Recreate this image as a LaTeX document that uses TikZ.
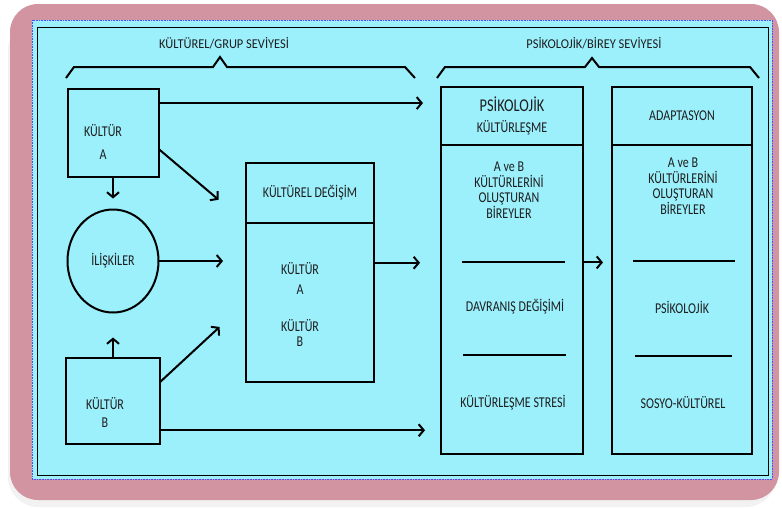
\documentclass[tikz,border=0pt]{standalone}
\usepackage{fontspec}
\setmainfont{Carlito}[FakeStretch=0.8]
\newfontfamily\topfont{Carlito}[FakeStretch=0.92]
\usetikzlibrary{arrows.meta, positioning, shapes.geometric, calc}
\definecolor{framepink}{RGB}{210,148,160}
\definecolor{panelcyan}{RGB}{155,240,252}
\definecolor{ink}{RGB}{30,30,30}

\begin{document}
\begin{tikzpicture}[
  x=1pt, y=-1pt,
  box/.style={draw, line width=2pt, outer sep=0pt, inner sep=0pt, align=center, text=ink, font=\fontsize{15}{16}\selectfont},
  lbl/.style={inner sep=0pt, align=center, text=ink, font=\fontsize{15}{16}\selectfont},
  stack/.style={lbl, font=\fontsize{15}{15.5}\selectfont},
  toplbl/.style={lbl, font=\topfont\fontsize{13.5}{15}\selectfont},
  arr/.style={-{Straight Barb[length=5pt, width=12pt]}, line width=2pt},
  brace/.style={line width=2pt},
  sep/.style={line width=2pt}
]
  \useasboundingbox (0,0) rectangle (782,507);

  % cerceve
  \fill[gray!10, rounded corners=30pt] (8,20) rectangle (776,507);
  \fill[framepink, rounded corners=28pt] (10,4) rectangle (779,500);
  \fill[panelcyan] (32,20) rectangle (772,479);
  \draw[blue!70, densely dotted, line width=0.6pt] (32,20) rectangle (772,479);
  \draw[line width=0.8pt] (37,27) rectangle (768,475);

  % seviyeler
  \node[toplbl] (grupLbl) at (224,43) {KÜLTÜREL/GRUP SEVİYESİ};
  \node[toplbl] (bireyLbl) at (594,43) {PSİKOLOJİK/BİREY SEVİYESİ};
  \draw[brace] (66,78) -- (74,67) -- (213,67) -- (220,57) -- (227,67) -- (405,67) -- (415,78);
  \draw[brace] (437,78) -- (445,67) -- (585,67) -- (592,58) -- (599,67) -- (750,67) -- (759,78);

  % kultur/grup seviyesi
  \node[box, minimum width=91pt, minimum height=88pt] (kulturA) at (113,133) {};
  \node[lbl] (kulturAtxt) at (103,142) {KÜLTÜR\\[7pt]A};
  \node[box, ellipse, minimum width=91pt, minimum height=103pt] (iliskiler) at (113,261) {İLİŞKİLER};
  \node[box, minimum width=94pt, minimum height=86pt] (kulturB) at (113,401) {};
  \node[lbl] (kulturBtxt) at (105,412) {KÜLTÜR\\[2pt]B};

  \node[box, minimum width=128pt, minimum height=60pt] (degisimHead) at (310,193) {KÜLTÜREL DEĞİŞİM};
  \node[box, minimum width=128pt, minimum height=159pt, below=0pt of degisimHead] (degisimBody) {};
  \node[lbl] (degisimA) at (300,278) {KÜLTÜR\\[4pt]A};
  \node[lbl] (degisimB) at (300,333) {KÜLTÜR\\[-1pt]B};

  % psikolojik/birey seviyesi
  \node[box, minimum width=142pt, minimum height=58pt] (psikoHead) at (512,116) {{\fontsize{18}{19}\selectfont PSİKOLOJİK}\\[5pt]KÜLTÜRLEŞME};
  \node[box, minimum width=142pt, minimum height=309pt, below=0pt of psikoHead] (psikoBody) {};
  \node[stack] (psikoBireyler) at (509,190) {A ve B\\KÜLTÜRLERİNİ\\OLUŞTURAN\\BİREYLER};
  \node[lbl] (davranis) at (515,307) {DAVRANIŞ DEĞİŞİMİ};
  \node[lbl] (stres) at (513,403) {KÜLTÜRLEŞME STRESİ};
  \draw[sep] (462,262) -- (565,262);
  \draw[sep] (463,355) -- (566,355);

  \node[box, minimum width=140pt, minimum height=58pt] (adaptHead) at (682,116) {ADAPTASYON};
  \node[box, minimum width=140pt, minimum height=309pt, below=0pt of adaptHead] (adaptBody) {};
  \node[stack] (adaptBireyler) at (683,186) {A ve B\\KÜLTÜRLERİNİ\\OLUŞTURAN\\BİREYLER};
  \node[lbl] (psikolojik) at (682,307) {PSİKOLOJİK};
  \node[lbl] (sosyo) at (683,403) {SOSYO-KÜLTÜREL};
  \draw[sep] (633,261) -- (735,261);
  \draw[sep] (635,356) -- (732,356);

  % oklar
  \coordinate (aTop) at ($(kulturA.north east)!0.16!(kulturA.south east)$);
  \coordinate (aDiag) at ($(kulturA.north east)!0.68!(kulturA.south east)$);
  \coordinate (bDiag) at ($(kulturB.north east)!0.28!(kulturB.south east)$);
  \coordinate (bLow) at ($(kulturB.north east)!0.84!(kulturB.south east)$);
  \coordinate (dOut) at ($(degisimBody.north east)!0.25!(degisimBody.south east)$);
  \coordinate (pOut) at ($(psikoBody.north east)!0.38!(psikoBody.south east)$);

  \draw[arr, shorten >=18pt] (aTop) -- (aTop -| psikoHead.west);
  \draw[arr, shorten >=11pt] (kulturA.south) -- (iliskiler.north);
  \draw[arr, shorten >=36pt] (aDiag) -- (degisimHead.south west);
  \draw[arr, shorten >=23pt] (iliskiler.east) -- (iliskiler.east -| degisimBody.west);
  \draw[arr, shorten >=25pt] (kulturB.north) -- (iliskiler.south);
  \draw[arr, shorten >=36pt] (bDiag) -- (degisimBody.west);
  \draw[arr, shorten >=16pt] (bLow) -- (bLow -| psikoBody.west);
  \draw[arr, shorten >=21pt] (dOut) -- (dOut -| psikoBody.west);
  \draw[arr, shorten >=9pt] (pOut) -- (pOut -| adaptBody.west);
\end{tikzpicture}
\end{document}
